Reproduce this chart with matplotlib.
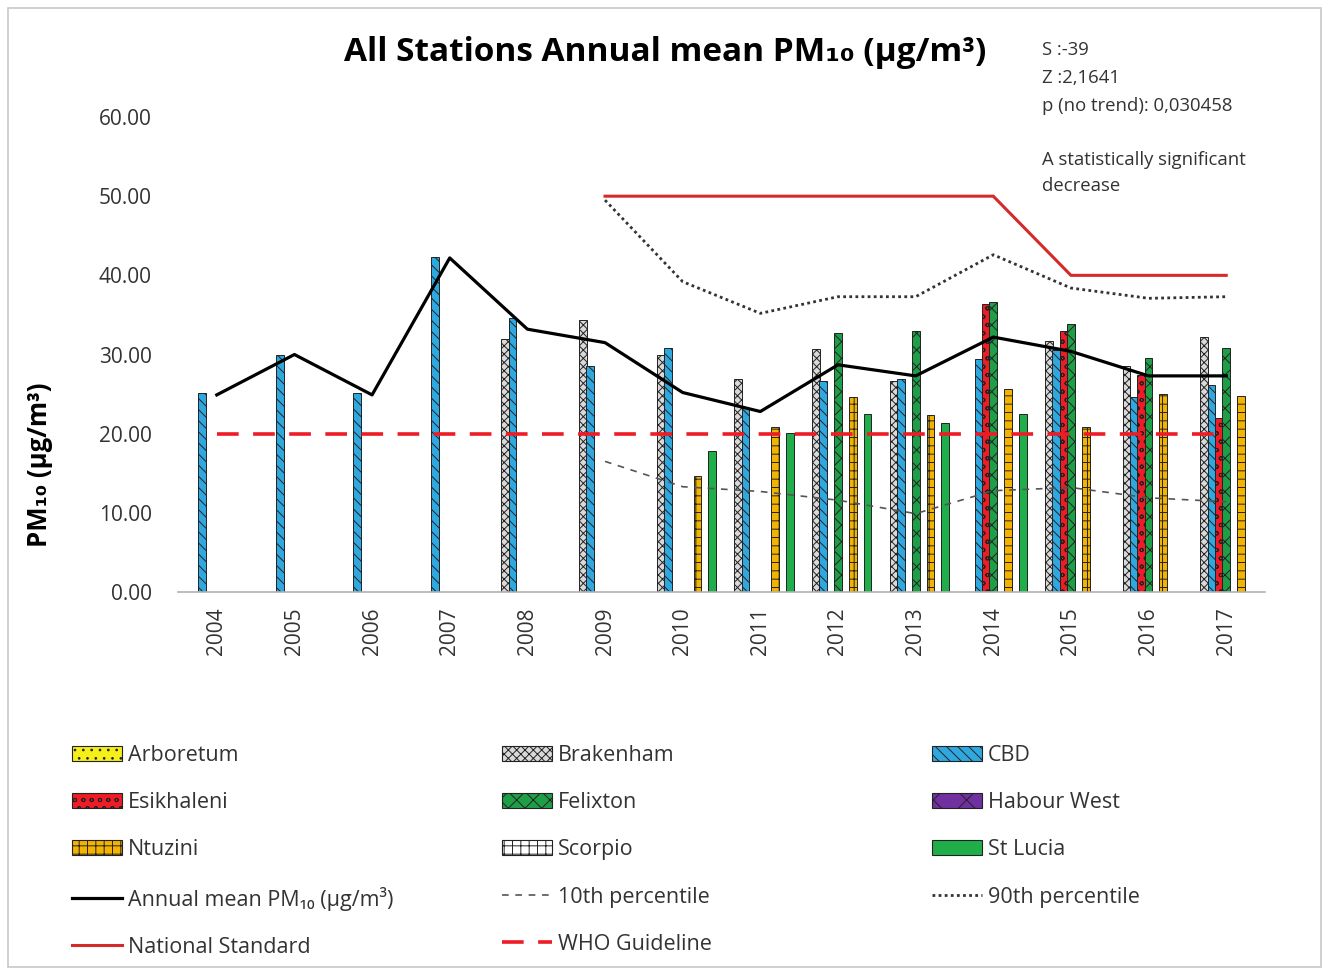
import matplotlib
matplotlib.use('Agg')
import matplotlib.pyplot as plt
import matplotlib.patches as mpatches
from matplotlib.lines import Line2D
import numpy as np

plt.rcParams['font.family'] = ['Open Sans', 'DejaVu Sans']
plt.rcParams['hatch.linewidth'] = 0.7

nan = np.nan
years = [str(y) for y in range(2004, 2018)]

# station annual means (ug/m3), nan = no data
arboretum  = [nan] * 14
brakenham  = [nan, nan, nan, nan, 32.0, 34.4, 29.9, 26.9, 30.7, 26.7, nan, 31.7, 28.5, 32.2]
cbd        = [25.1, 30.0, 25.1, 42.3, 34.6, 28.5, 30.8, 23.2, 26.7, 26.9, 29.4, 30.6, 24.6, 26.1]
esikhaleni = [nan] * 10 + [36.4, 33.0, 27.4, 22.0]
felixton   = [nan] * 8 + [32.7, 33.0, 36.6, 33.9, 29.6, 30.8]
habour     = [nan] * 14
ntuzini    = [nan] * 6 + [14.7, 20.9, 24.6, 22.3, 25.7, 20.9, 25.0, 24.8]
scorpio    = [nan] * 14
st_lucia   = [nan] * 6 + [17.8, 20.1, 22.5, 21.3, 22.5, nan, nan, nan]

annual_mean = [24.9, 30.0, 24.9, 42.2, 33.2, 31.5, 25.2, 22.8, 28.7, 27.3, 32.2, 30.4, 27.3, 27.3]
p10 = [nan] * 5 + [16.5, 13.3, 12.7, 11.6, 9.9, 12.8, 13.2, 11.9, 11.4]
p90 = [nan] * 5 + [49.5, 39.2, 35.2, 37.3, 37.3, 42.6, 38.4, 37.1, 37.3]
national = [nan] * 5 + [50, 50, 50, 50, 50, 50, 40, 40, 40]
who = [20] * 14

stations = ['Arboretum', 'Brakenham', 'CBD', 'Esikhaleni', 'Felixton',
            'Habour West', 'Ntuzini', 'Scorpio', 'St Lucia']
values = [arboretum, brakenham, cbd, esikhaleni, felixton, habour, ntuzini, scorpio, st_lucia]
faces = ['#f5ef1a', '#d9d9d9', '#2fa8e0', '#ee1c25', '#1f9e48',
         '#7030a0', '#f2b400', '#ffffff', '#1fae4a']
hatches = ['..', 'xxxx', '\\\\\\', 'oo', 'xx', '\\/', '++', '++', '']

fig = plt.figure(figsize=(13.28, 9.71), dpi=100)
ax = fig.add_axes([0.134, 0.3903, 0.8186, 0.4892])

x = np.arange(len(years))
slot = 0.095
hd = {}
for i, (name, vals) in enumerate(zip(stations, values)):
    off = (i - 4) * slot
    ax.bar(x + off, vals, width=slot * 1.05, color=faces[i], hatch=hatches[i],
           edgecolor='#222222', linewidth=0.7)
    hd[name] = mpatches.Patch(facecolor=faces[i], hatch=hatches[i],
                              edgecolor='#222222', linewidth=0.8)

ax.plot(x, annual_mean, color='black', lw=2.3)
ax.plot(x, p10, color='#555555', lw=1.2, ls=(0, (4, 4)))
ax.plot(x, p90, color='#333333', lw=2.0, ls=(0, (1, 1.2)))
ax.plot(x, national, color='#d42a2a', lw=2.2)
ax.plot(x, who, color='#ee1c25', lw=2.6, ls=(0, (6, 4)))

ax.set_xlim(-0.5, len(years) - 0.5)
ax.set_ylim(0, 60)
ax.set_yticks(np.arange(0, 61, 10))
ax.set_yticklabels(['%.2f' % v for v in np.arange(0, 61, 10)], fontsize=15, color='#333333')
ax.set_xticks(x)
ax.set_xticklabels(years, rotation=90, fontsize=15, color='#333333')
ax.tick_params(axis='y', length=0, pad=19)
ax.tick_params(axis='x', length=0, pad=11)
for s in ['top', 'right', 'left']:
    ax.spines[s].set_visible(False)
ax.spines['bottom'].set_color('#b0b0b0')
ax.spines['bottom'].set_linewidth(1.2)

fig.text(0.030, 0.521, 'PM₁₀ (µg/m³)', rotation=90, ha='center', va='center',
         fontsize=18.5, fontweight='bold')
fig.text(0.501, 0.946, 'All Stations Annual mean PM₁₀ (µg/m³)', ha='center', va='center',
         fontsize=24, fontweight='bold')

fig.text(0.785, 0.958, 'S :-39\nZ :2,1641\np (no trend): 0,030458', ha='left', va='top',
         fontsize=13.3, color='#333333', linespacing=1.72)
fig.text(0.785, 0.845, 'A statistically significant\ndecrease', ha='left', va='top',
         fontsize=13.3, color='#333333', linespacing=1.6)

lh = {
    'Annual mean PM₁₀ (µg/m³)': Line2D([], [], color='black', lw=2.3),
    '10th percentile': Line2D([], [], color='#555555', lw=1.2, ls=(0, (4, 4))),
    '90th percentile': Line2D([], [], color='#333333', lw=2.0, ls=(0, (1, 1.2))),
    'National Standard': Line2D([], [], color='#d42a2a', lw=2.2),
    'WHO Guideline': Line2D([], [], color='#ee1c25', lw=2.6, ls=(0, (6, 4))),
}
allh = dict(hd, **lh)
columns = [
    ['Arboretum', 'Esikhaleni', 'Ntuzini', 'Annual mean PM₁₀ (µg/m³)', 'National Standard'],
    ['Brakenham', 'Felixton', 'Scorpio', '10th percentile', 'WHO Guideline'],
    ['CBD', 'Habour West', 'St Lucia', '90th percentile'],
]
col_x = [72 / 1328, 502 / 1328, 932 / 1328]
for cx, labs in zip(col_x, columns):
    fig.legend([allh[l] for l in labs], labs, loc='upper left', bbox_to_anchor=(cx, 0.233),
               frameon=False, fontsize=15.5, handlelength=2.3, handleheight=0.7,
               handletextpad=0.3, labelspacing=1.22, borderpad=0, borderaxespad=0,
               labelcolor='#333333')

fig.patches.append(mpatches.Rectangle((0.006, 0.004), 0.989, 0.988, transform=fig.transFigure,
                                      fill=False, edgecolor='#c8c8c8', lw=1.2))

plt.savefig('out.png', dpi=100)
